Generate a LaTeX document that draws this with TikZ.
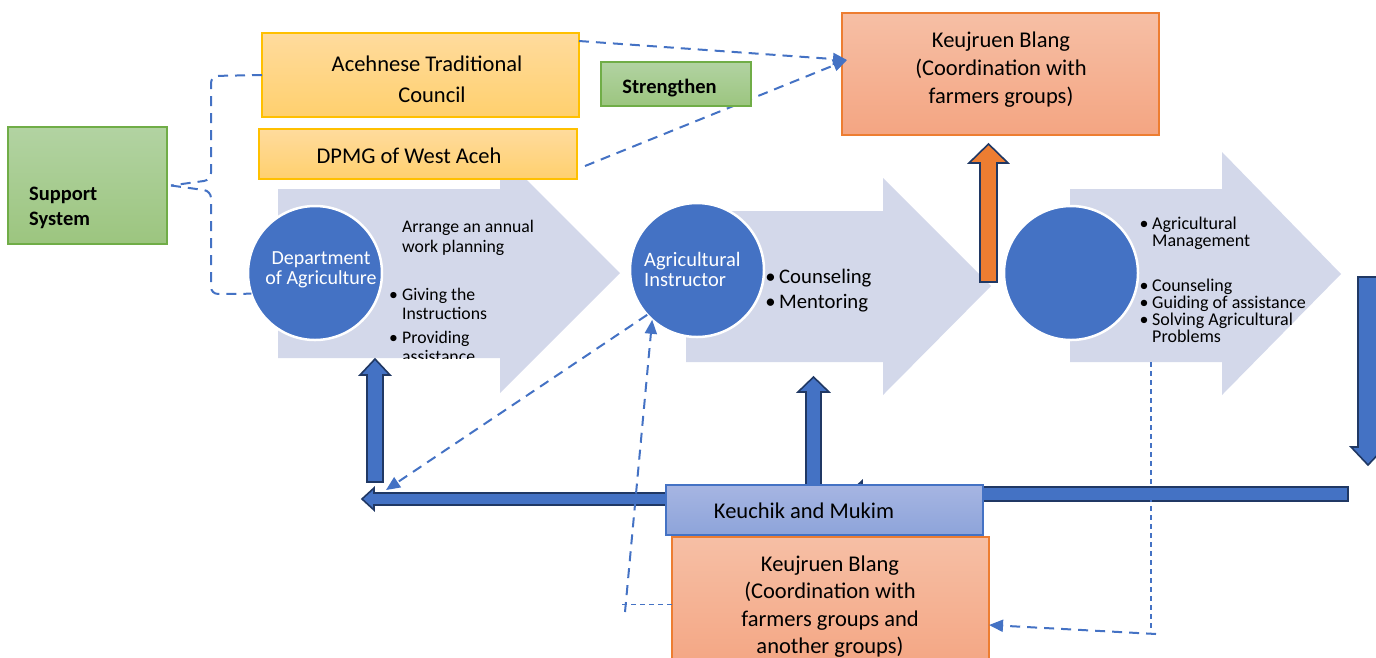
\documentclass[tikz,border=0pt]{standalone}
\usepackage{fontspec}
\setmainfont{Carlito}
\usetikzlibrary{arrows.meta}
\definecolor{lav}{HTML}{D3D8EA}
\definecolor{blueC}{HTML}{4472C4}
\definecolor{navy}{HTML}{203864}
\definecolor{orangeA}{HTML}{ED7D31}
\definecolor{salT}{HTML}{F6BFA5}
\definecolor{salBot}{HTML}{F4A582}
\definecolor{salB}{HTML}{ED7D31}
\definecolor{yelT}{HTML}{FFDB9D}
\definecolor{yelBot}{HTML}{FFD06E}
\definecolor{yelB}{HTML}{FFC000}
\definecolor{grnT}{HTML}{B2D3A2}
\definecolor{grnBot}{HTML}{9CC57F}
\definecolor{grnB}{HTML}{70AD47}
\definecolor{kT}{HTML}{A6B5E2}
\definecolor{kBot}{HTML}{8DA4DA}
\tikzset{
  bx/.style={rectangle, inner sep=0pt, outer sep=0pt, line width=1.2pt},
  yel/.style={bx, draw=yelB, top color=yelT, bottom color=yelBot},
  grn/.style={bx, draw=grnB, top color=grnT, bottom color=grnBot},
  sal/.style={bx, draw=salB, top color=salT, bottom color=salBot},
  kblue/.style={bx, draw=blueC, top color=kT, bottom color=kBot},
  disc/.style={circle, inner sep=0pt, outer sep=0pt, minimum size=134pt, fill=blueC, draw=white, line width=2.5pt},
  chev/.style={fill=lav, draw=none},
  thick arrow/.style={fill=blueC, draw=navy, line width=1.6pt, line join=miter},
  orange arrow/.style={fill=orangeA, draw=navy, line width=1.6pt, line join=miter},
  tbig/.style={inner sep=0pt, anchor=base, font=\fontsize{22.5}{27}\selectfont},
  tbold/.style={inner sep=0pt, font=\fontsize{20.5}{25}\selectfont\bfseries},
  tA/.style={inner sep=0pt, anchor=base west, font=\fontsize{17.7}{20}\selectfont},
  tAb/.style={inner sep=0pt, anchor=base, font=\fontsize{17.7}{20}\selectfont},
  tB/.style={inner sep=0pt, anchor=base west, font=\fontsize{20.7}{25}\selectfont},
  tBb/.style={inner sep=0pt, anchor=base, font=\fontsize{20.7}{25}\selectfont},
  tC/.style={inner sep=0pt, anchor=base west, font=\fontsize{18}{18}\selectfont},
  tCb/.style={inner sep=0pt, anchor=base, font=\fontsize{18}{18}\selectfont},
  twhite/.style={inner sep=0pt, text=white, font=\fontsize{20}{20}\selectfont},
  dsh/.style={draw=blueC, line width=2pt, dash pattern=on 10pt off 7pt},
  dthin/.style={draw=blueC, line width=1.2pt, dash pattern=on 5pt off 4pt},
  tip/.style={-{Triangle[length=14pt,width=12pt]}}
}
\begin{document}
\begin{tikzpicture}[x=1pt,y=-1pt]
\useasboundingbox (0,0) rectangle (1376,657);
\clip (0,0) rectangle (1376,657);

% big chevrons
\fill[chev] (278,189) -- (500,189) -- (500,153) -- (620,273) -- (500,393) -- (500,358) -- (278,358) -- cycle;
\fill[chev] (686,211) -- (883,211) -- (883,178) -- (991,286) -- (883,395) -- (883,362) -- (686,362) -- cycle;
\fill[chev] (1070,189) -- (1222,189) -- (1222,152) -- (1341,274) -- (1222,395) -- (1222,362) -- (1070,362) -- cycle;

% boxes (nodes)
\node[grn, minimum width=159pt, minimum height=117pt] (sup) at (87.5,185.5) {};
\node[yel, minimum width=317pt, minimum height=84pt] (ace) at (420.5,75) {};
\node[yel, minimum width=318pt, minimum height=50pt] (dpmg) at (418,154) {};

% support system bracket
\draw[dsh, rounded corners=7pt] (ace.west) -- (211,76) -- (211,180) -- ([xshift=4pt]sup.east);

% circles
\node[disc] (dept) at (315,273) {};
\node[disc] (instr) at (697,270) {};
\node[disc] (third) at (1071,273) {};

\draw[dsh, rounded corners=7pt] ([xshift=4pt]sup.east) -- (211,191) -- (211,294) -- (dept.198);

% circle texts
\node[twhite, anchor=base] (d1) at (321,264) {Department};
\node[twhite, anchor=base] (d2) at (321,284) {of Agriculture};
\node[twhite, anchor=base west, font=\fontsize{20.5}{20}\selectfont] (i1) at (644,266) {Agricultural};
\node[twhite, anchor=base west, font=\fontsize{20.5}{20}\selectfont] (i2) at (644,286) {Instructor};

% arrow 1 texts
\node[tA] (a1) at (402,232) {Arrange an annual};
\node[tA] (a2) at (402,252) {work planning};
\node[tAb] (ab1) at (393.5,300) {•};
\node[tA] (a3) at (402,300) {Giving the};
\node[tA] (a4) at (402,319) {Instructions};
\node[tAb] (ab2) at (393.5,343) {•};
\node[tA] (a5) at (402,343) {Providing};
\begin{scope}
\clip (380,345) rectangle (600,358.5);
\node[tA] (a6) at (402,362) {assistance};
\end{scope}

% arrow 2 texts
\node[tBb] (bb1) at (770.5,283) {•};
\node[tB] (b1) at (779,283) {Counseling};
\node[tBb] (bb2) at (770.5,308) {•};
\node[tB] (b2) at (779,308) {Mentoring};

% arrow 3 texts
\node[tCb] (cb1) at (1144,229) {•};
\node[tC] (c1) at (1152,229) {Agricultural};
\node[tC] (c2) at (1152,246.5) {Management};
\node[tCb] (cb2) at (1144,291) {•};
\node[tC] (c3) at (1152,291) {Counseling};
\node[tCb] (cb3) at (1144,308) {•};
\node[tC] (c4) at (1152,308) {Guiding of assistance};
\node[tCb] (cb4) at (1144,325) {•};
\node[tC] (c5) at (1152,325) {Solving Agricultural};
\node[tC] (c6) at (1152,342) {Problems};

% top Keujruen box
\node[sal, minimum width=317pt, minimum height=122pt] (kbT) at (1000.5,74) {};
\coordinate (kin) at (847,60);

% dashed lines to top Keujruen
\draw[dsh, tip] ([yshift=34pt]ace.east) -- (kin);
\draw[dsh, tip] ([xshift=8pt,yshift=-12pt]dpmg.east) -- (kin);

\node[grn, minimum width=150pt, minimum height=44pt] (str) at (676,84) {};

% box texts
\node[tbig] (aceT1) at (427,71) {Acehnese Traditional};
\node[tbig] (aceT2) at (432,102) {Council};
\node[tbig] (dpT) at (409,163) {DPMG of West Aceh};
\node[tbold, anchor=base west] (supT1) at (29,200) {Support};
\node[tbold, anchor=base west] (supT2) at (29,225) {System};
\node[tbold, anchor=base] (strT) at (669.5,93) {Strengthen};
\node[tbig] (kt1) at (1001,47) {Keujruen Blang};
\node[tbig] (kt2) at (1001,75) {(Coordination with};
\node[tbig] (kt3) at (1001,103) {farmers groups)};

% orange arrow
\draw[orange arrow] (980,282) -- (980,163) -- (969,163) -- (988.5,144) -- (1008,163) -- (997,163) -- (997,282) -- cycle;

% blue thick arrows
\draw[thick arrow] (367,482) -- (367,375) -- (360,375) -- (375,359) -- (390,375) -- (383,375) -- (383,482) -- cycle;
\draw[thick arrow] (700,493) -- (374,493) -- (374,488) -- (362,499) -- (374,510) -- (374,505) -- (700,505) -- cycle;
\draw[thick arrow] (1348,487) -- (862,487) -- (862,481) -- (848,494) -- (862,507) -- (862,501) -- (1348,501) -- cycle;
\draw[thick arrow] (806,490) -- (806,392) -- (798,392) -- (813.5,377) -- (829,392) -- (821,392) -- (821,490) -- cycle;
\draw[thick arrow] (1358,277) -- (1358,447) -- (1351,447) -- (1368,465) -- (1385,447) -- (1378,447) -- (1378,277) -- cycle;

% bottom boxes
\node[kblue, minimum width=317pt, minimum height=50pt] (keu) at (824.5,510) {};
\node[tbig] (keuT) at (804,518) {Keuchik and Mukim};
\node[sal, minimum width=317pt, minimum height=135pt] (kbB) at (830.5,604.5) {};
\node[tbig] (kb1) at (830,571) {Keujruen Blang};
\node[tbig] (kb2) at (830,598.5) {(Coordination with};
\node[tbig] (kb3) at (830,626) {farmers groups and};
\node[tbig] (kb4) at (830,653) {another groups)};

% bottom dashed connectors
\coordinate (ltip) at (386,490);
\coordinate (lb) at (622,604.5);
\coordinate (lb2) at (625,612);
\coordinate (rtop) at (1151,362);
\coordinate (rbot) at (1151,632);
\coordinate (rb2) at (1156,634);
\draw[dsh, tip] (instr.222) -- (ltip);
\draw[dthin] (kbB.west) -- (lb);
\draw[dsh, tip] (lb2) -- (instr.228);
\draw[dthin] (rtop) -- (rbot);
\draw[dsh, tip] (rb2) -- ([yshift=-20.5pt]kbB.east);
\end{tikzpicture}
\end{document}
